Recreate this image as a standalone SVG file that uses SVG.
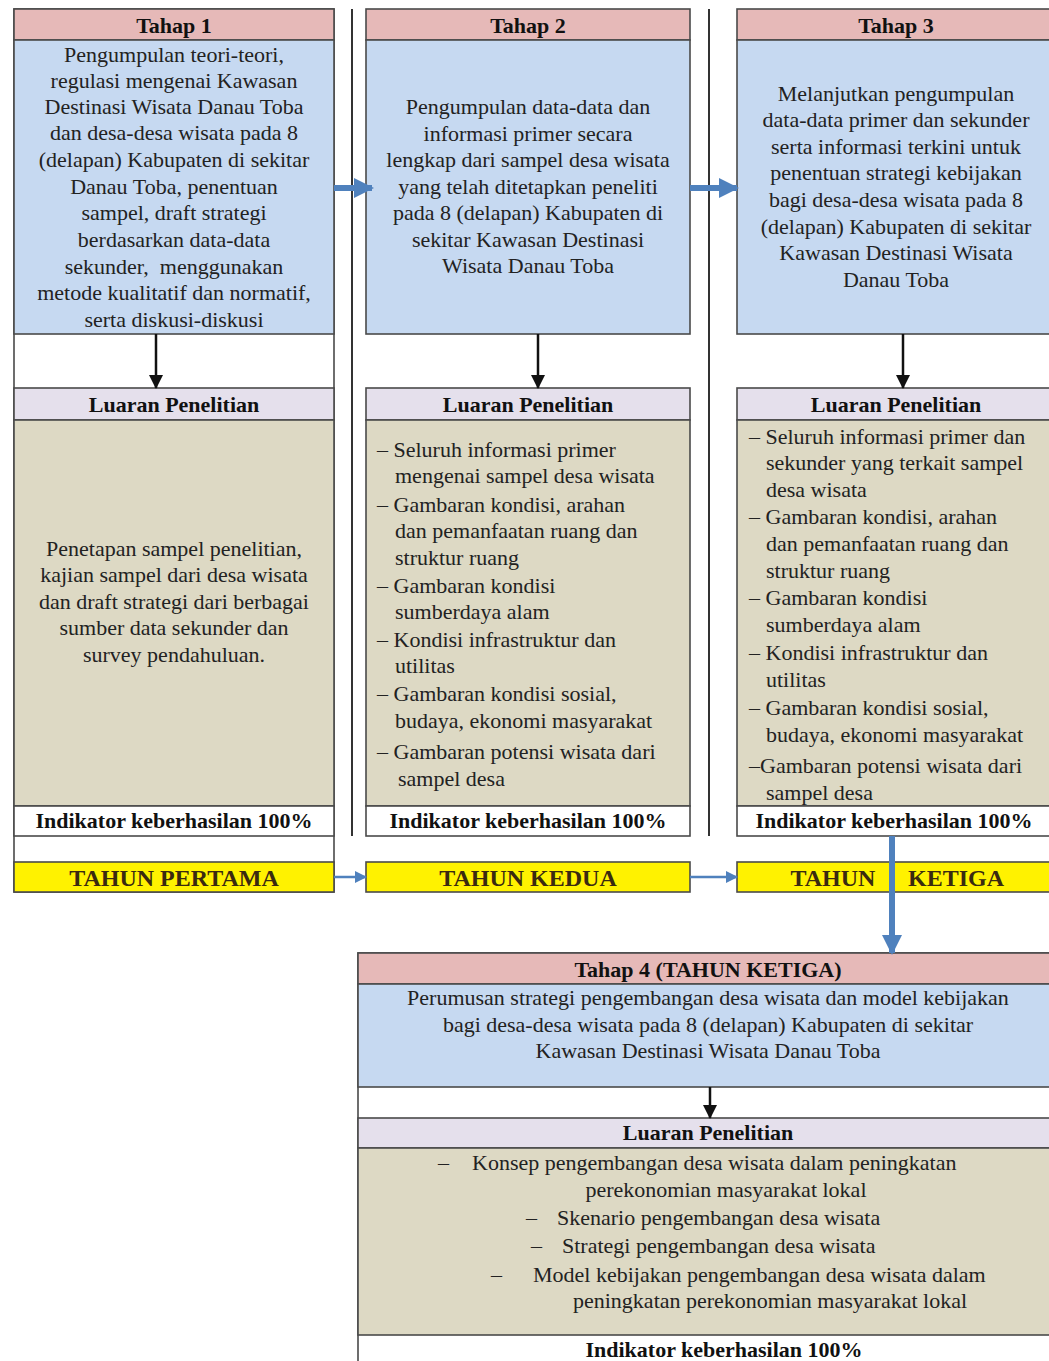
<svg xmlns="http://www.w3.org/2000/svg" width="1049" height="1361" viewBox="0 0 1049 1361">
<defs>
<style>
.bd{stroke:#4a4a4a;stroke-width:1.6}
.hd{fill:#E6B9B8}
.bl{fill:#C6D9F1}
.lv{fill:#E5E0EC}
.tn{fill:#DDD9C4}
.wh{fill:#FFFFFF}
.yl{fill:#FFF200}
.t{font-family:"Liberation Serif","Times New Roman",serif;font-size:22px;fill:#222}
.c{text-anchor:middle}
.b{font-weight:bold;fill:#111}
.yt{font-family:"Liberation Serif","Times New Roman",serif;font-size:24px;font-weight:bold;fill:#3a2a10;text-anchor:middle}
.sep{stroke:#333;stroke-width:2}
.ba{stroke:#4F81BD;stroke-width:6;fill:none}
.bt{stroke:#4F81BD;stroke-width:2.5;fill:none}
.ka{stroke:#111;stroke-width:2.5;fill:none}
</style>
<marker id="mBig" markerUnits="userSpaceOnUse" viewBox="0 0 20 20" refX="18" refY="10" markerWidth="20" markerHeight="20" orient="auto"><path d="M0,0 L20,10 L0,20 z" fill="#4F81BD"/></marker>
<marker id="mThin" markerUnits="userSpaceOnUse" viewBox="0 0 12 12" refX="11" refY="6" markerWidth="12" markerHeight="12" orient="auto"><path d="M0,0 L12,6 L0,12 z" fill="#4F81BD"/></marker>
<marker id="mBlk" markerUnits="userSpaceOnUse" viewBox="0 0 14 14" refX="13" refY="7" markerWidth="14" markerHeight="14" orient="auto"><path d="M0,0 L14,7 L0,14 z" fill="#111"/></marker>
</defs>
<rect width="1049" height="1361" fill="#FFFFFF"/>

<g id="separators">
<line class="sep" x1="352" y1="9" x2="352" y2="836"/>
<line class="sep" x1="709" y1="9" x2="709" y2="836"/>
</g>

<g id="tahap1">
<rect class="wh bd" x="14" y="9" width="320" height="883"/>
<rect class="hd bd" x="14" y="9" width="320" height="31"/>
<rect class="bl bd" x="14" y="40" width="320" height="294"/>
<rect class="lv bd" x="14" y="388" width="320" height="32"/>
<rect class="tn bd" x="14" y="420" width="320" height="386"/>
<rect class="wh bd" x="14" y="806" width="320" height="30"/>
<rect class="yl bd" x="14" y="862" width="320" height="30"/>
<text class="t b c" x="174" y="33">Tahap 1</text>
<text class="t c" x="174" y="62">Pengumpulan teori-teori,</text>
<text class="t c" x="174" y="88">regulasi mengenai Kawasan</text>
<text class="t c" x="174" y="114">Destinasi Wisata Danau Toba</text>
<text class="t c" x="174" y="140">dan desa-desa wisata pada 8</text>
<text class="t c" x="174" y="167">(delapan) Kabupaten di sekitar</text>
<text class="t c" x="174" y="194">Danau Toba, penentuan</text>
<text class="t c" x="174" y="220">sampel, draft strategi</text>
<text class="t c" x="174" y="247">berdasarkan data-data</text>
<text class="t c" x="174" y="274" xml:space="preserve">sekunder,  menggunakan</text>
<text class="t c" x="174" y="300">metode kualitatif dan normatif,</text>
<text class="t c" x="174" y="327">serta diskusi-diskusi</text>
<text class="t b c" x="174" y="412">Luaran Penelitian</text>
<text class="t c" x="174" y="556">Penetapan sampel penelitian,</text>
<text class="t c" x="174" y="582">kajian sampel dari desa wisata</text>
<text class="t c" x="174" y="609">dan draft strategi dari berbagai</text>
<text class="t c" x="174" y="635">sumber data sekunder dan</text>
<text class="t c" x="174" y="662">survey pendahuluan.</text>
<text class="t b c" x="174" y="828">Indikator keberhasilan 100%</text>
<text class="yt" x="174" y="886">TAHUN PERTAMA</text>
</g>

<g id="tahap2">
<rect class="hd bd" x="366" y="9" width="324" height="31"/>
<rect class="bl bd" x="366" y="40" width="324" height="294"/>
<rect class="lv bd" x="366" y="388" width="324" height="32"/>
<rect class="tn bd" x="366" y="420" width="324" height="386"/>
<rect class="wh bd" x="366" y="806" width="324" height="30"/>
<rect class="yl bd" x="366" y="862" width="324" height="30"/>
<text class="t b c" x="528" y="33">Tahap 2</text>
<text class="t c" x="528" y="114">Pengumpulan data-data dan</text>
<text class="t c" x="528" y="141">informasi primer secara</text>
<text class="t c" x="528" y="167">lengkap dari sampel desa wisata</text>
<text class="t c" x="528" y="194">yang telah ditetapkan peneliti</text>
<text class="t c" x="528" y="220">pada 8 (delapan) Kabupaten di</text>
<text class="t c" x="528" y="247">sekitar Kawasan Destinasi</text>
<text class="t c" x="528" y="273">Wisata Danau Toba</text>
<text class="t b c" x="528" y="412">Luaran Penelitian</text>
<text class="t" x="377" y="457">– Seluruh informasi primer</text>
<text class="t" x="395" y="483">mengenai sampel desa wisata</text>
<text class="t" x="377" y="512">– Gambaran kondisi, arahan</text>
<text class="t" x="395" y="538">dan pemanfaatan ruang dan</text>
<text class="t" x="395" y="565">struktur ruang</text>
<text class="t" x="377" y="593">– Gambaran kondisi</text>
<text class="t" x="395" y="619">sumberdaya alam</text>
<text class="t" x="377" y="647">– Kondisi infrastruktur dan</text>
<text class="t" x="395" y="673">utilitas</text>
<text class="t" x="377" y="701">– Gambaran kondisi sosial,</text>
<text class="t" x="395" y="728">budaya, ekonomi masyarakat</text>
<text class="t" x="377" y="759">– Gambaran potensi wisata dari</text>
<text class="t" x="398" y="786">sampel desa</text>
<text class="t b c" x="528" y="828">Indikator keberhasilan 100%</text>
<text class="yt" x="528" y="886">TAHUN KEDUA</text>
</g>

<g id="tahap3">
<rect class="hd bd" x="737" y="9" width="314" height="31"/>
<rect class="bl bd" x="737" y="40" width="314" height="294"/>
<rect class="lv bd" x="737" y="388" width="314" height="32"/>
<rect class="tn bd" x="737" y="420" width="314" height="386"/>
<rect class="wh bd" x="737" y="806" width="314" height="30"/>
<rect class="yl bd" x="737" y="862" width="314" height="30"/>
<text class="t b c" x="896" y="33">Tahap 3</text>
<text class="t c" x="896" y="101">Melanjutkan pengumpulan</text>
<text class="t c" x="896" y="127">data-data primer dan sekunder</text>
<text class="t c" x="896" y="154">serta informasi terkini untuk</text>
<text class="t c" x="896" y="180">penentuan strategi kebijakan</text>
<text class="t c" x="896" y="207">bagi desa-desa wisata pada 8</text>
<text class="t c" x="896" y="234">(delapan) Kabupaten di sekitar</text>
<text class="t c" x="896" y="260">Kawasan Destinasi Wisata</text>
<text class="t c" x="896" y="287">Danau Toba</text>
<text class="t b c" x="896" y="412">Luaran Penelitian</text>
<text class="t" x="749" y="444">– Seluruh informasi primer dan</text>
<text class="t" x="766" y="470">sekunder yang terkait sampel</text>
<text class="t" x="766" y="497">desa wisata</text>
<text class="t" x="749" y="524">– Gambaran kondisi, arahan</text>
<text class="t" x="766" y="551">dan pemanfaatan ruang dan</text>
<text class="t" x="766" y="578">struktur ruang</text>
<text class="t" x="749" y="605">– Gambaran kondisi</text>
<text class="t" x="766" y="632">sumberdaya alam</text>
<text class="t" x="749" y="660">– Kondisi infrastruktur dan</text>
<text class="t" x="766" y="687">utilitas</text>
<text class="t" x="749" y="715">– Gambaran kondisi sosial,</text>
<text class="t" x="766" y="742">budaya, ekonomi masyarakat</text>
<text class="t" x="749" y="773">–Gambaran potensi wisata dari</text>
<text class="t" x="766" y="800">sampel desa</text>
<text class="t b c" x="894" y="828">Indikator keberhasilan 100%</text>
<text class="yt" x="833" y="886">TAHUN</text>
<text class="yt" x="956" y="886">KETIGA</text>
</g>

<g id="tahap4">
<rect class="wh bd" x="358" y="953" width="693" height="410"/>
<rect class="hd bd" x="358" y="953" width="693" height="31"/>
<rect class="bl bd" x="358" y="984" width="693" height="103"/>
<rect class="lv bd" x="358" y="1118" width="693" height="30"/>
<rect class="tn bd" x="358" y="1148" width="693" height="187"/>
<text class="t b c" x="708" y="977">Tahap 4 (TAHUN KETIGA)</text>
<text class="t c" x="708" y="1005">Perumusan strategi pengembangan desa wisata dan model kebijakan</text>
<text class="t c" x="708" y="1032">bagi desa-desa wisata pada 8 (delapan) Kabupaten di sekitar</text>
<text class="t c" x="708" y="1058">Kawasan Destinasi Wisata Danau Toba</text>
<text class="t b c" x="708" y="1140">Luaran Penelitian</text>
<text class="t" x="438" y="1170">–</text>
<text class="t" x="472" y="1170">Konsep pengembangan desa wisata dalam peningkatan</text>
<text class="t c" x="726" y="1197">perekonomian masyarakat lokal</text>
<text class="t" x="526" y="1225">–</text>
<text class="t" x="557" y="1225">Skenario pengembangan desa wisata</text>
<text class="t" x="531" y="1253">–</text>
<text class="t" x="562" y="1253">Strategi pengembangan desa wisata</text>
<text class="t" x="491" y="1282">–</text>
<text class="t" x="533" y="1282">Model kebijakan pengembangan desa wisata dalam</text>
<text class="t c" x="770" y="1308">peningkatan perekonomian masyarakat lokal</text>
<text class="t b c" x="724" y="1357">Indikator keberhasilan 100%</text>
</g>

<g id="connectors">
<line class="ba" x1="334" y1="188" x2="372" y2="188" marker-end="url(#mBig)"/>
<line class="ba" x1="690" y1="188" x2="737" y2="188" marker-end="url(#mBig)"/>
<line class="bt" x1="334" y1="877" x2="366" y2="877" marker-end="url(#mThin)"/>
<line class="bt" x1="690" y1="877" x2="737" y2="877" marker-end="url(#mThin)"/>
<line class="ba" x1="892" y1="836" x2="892" y2="953" marker-end="url(#mBig)"/>
<line class="ka" x1="156" y1="334" x2="156" y2="388" marker-end="url(#mBlk)"/>
<line class="ka" x1="538" y1="334" x2="538" y2="388" marker-end="url(#mBlk)"/>
<line class="ka" x1="903" y1="334" x2="903" y2="388" marker-end="url(#mBlk)"/>
<line class="ka" x1="710" y1="1087" x2="710" y2="1118" marker-end="url(#mBlk)"/>
</g>
</svg>
